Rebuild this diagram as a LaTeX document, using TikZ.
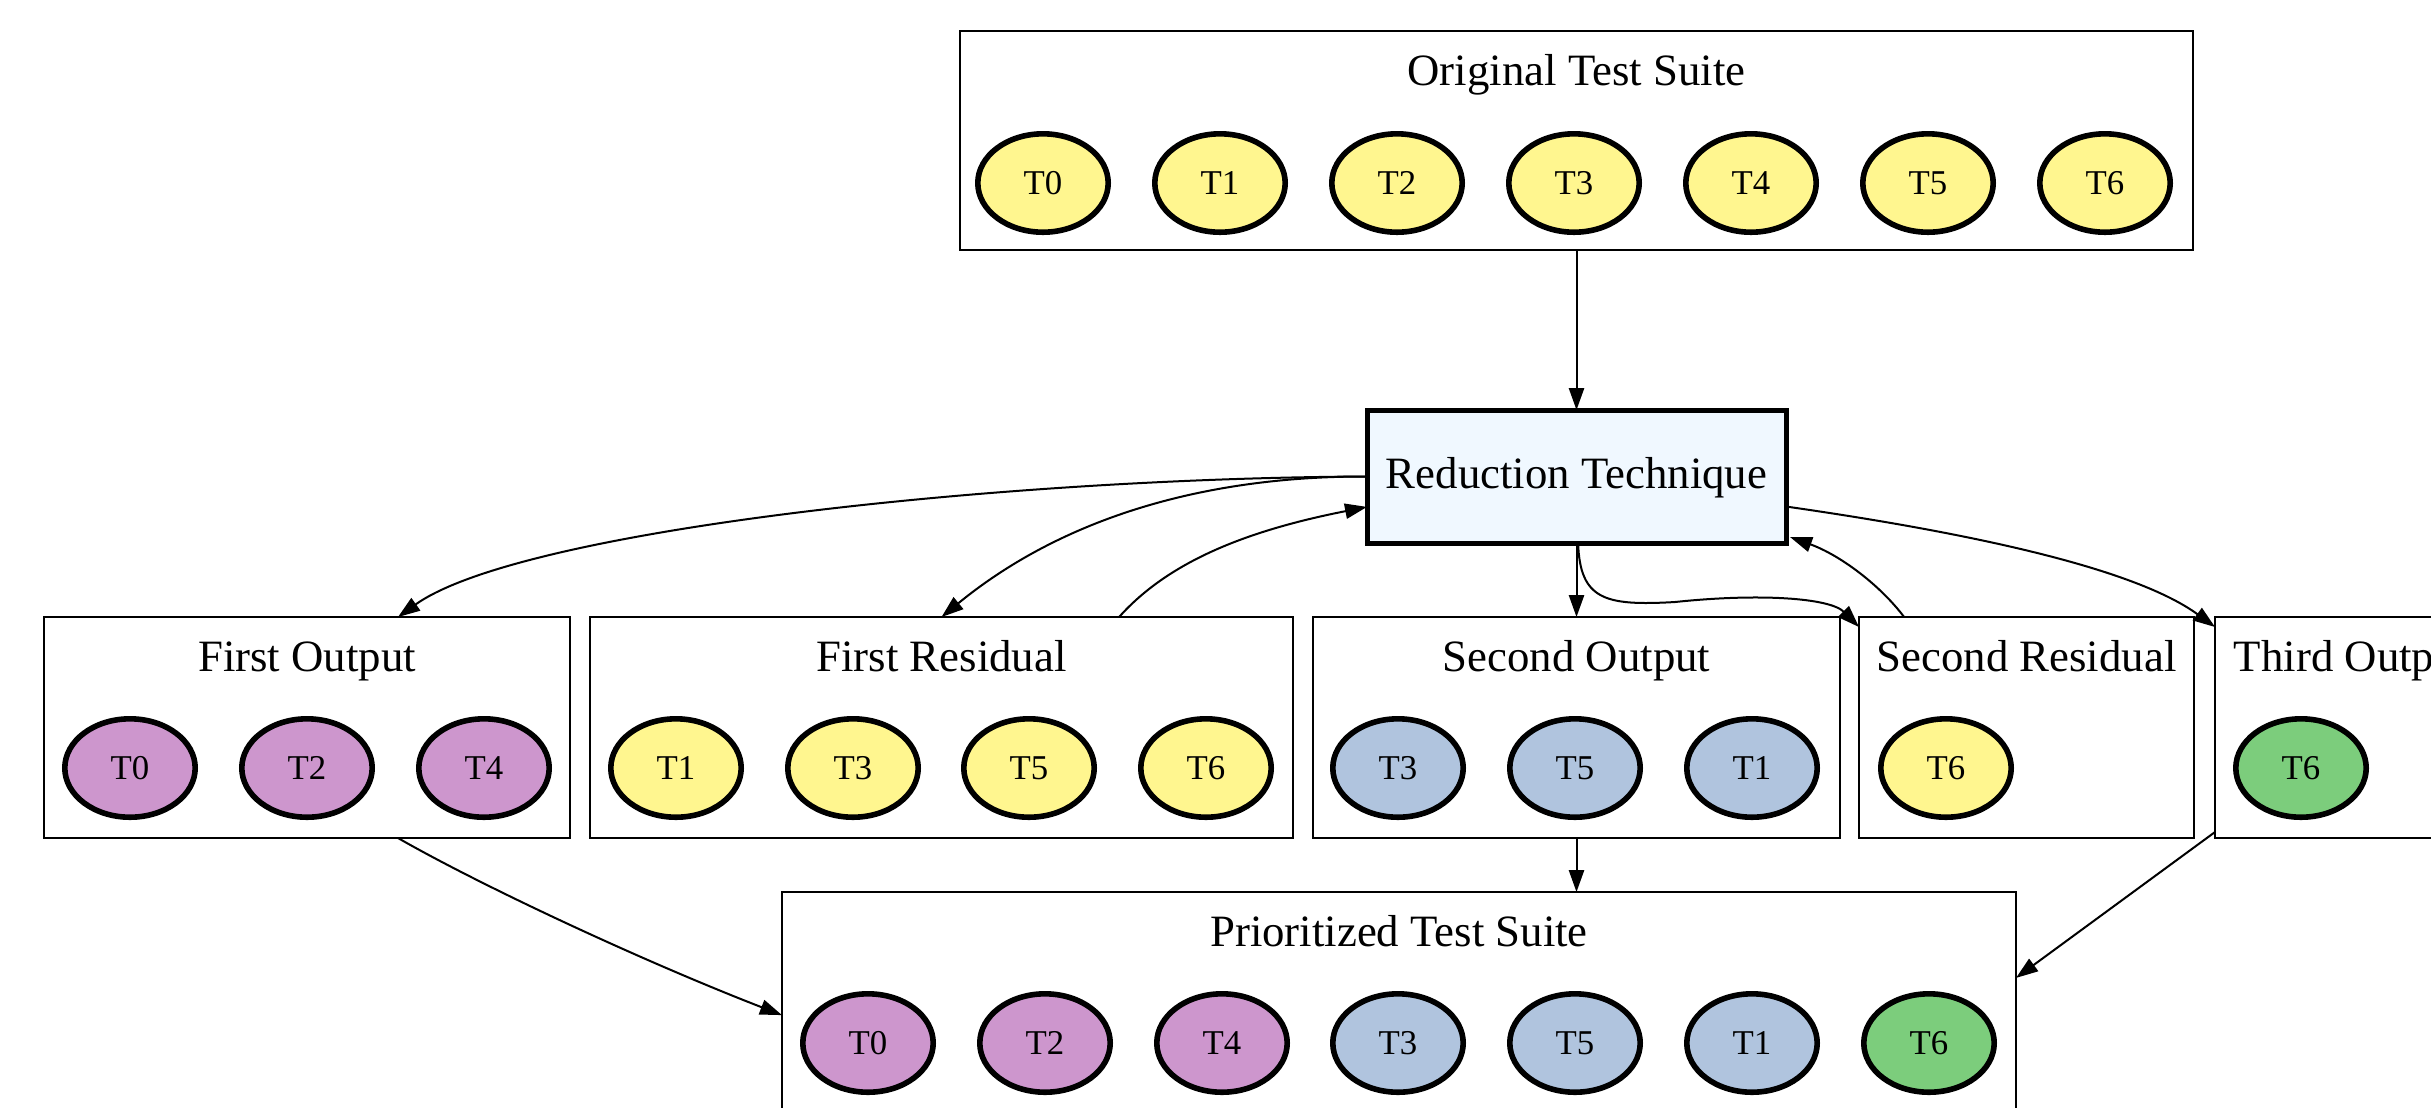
\documentclass[tikz,border=0pt]{standalone}
\usepackage{fontspec}
\setmainfont{Liberation Serif}
\usetikzlibrary{shapes.geometric,arrows.meta,calc}
\definecolor{tyel}{HTML}{FFF68F}
\definecolor{tpur}{HTML}{CD96CD}
\definecolor{tblu}{HTML}{B0C4DE}
\definecolor{tgrn}{HTML}{7CCD7C}
\definecolor{tred}{HTML}{F0F8FF}
\begin{document}
\begin{tikzpicture}[x=0.25pt,y=-0.25pt,
  grp/.style={draw, line width=0.5pt, rectangle, inner sep=0pt, outer sep=0pt, minimum height=55pt},
  ttl/.style={font=\fontsize{11.2}{13}\selectfont, inner sep=0pt, anchor=base},
  tc/.style={ellipse, draw, line width=1.4pt, minimum width=32.6pt, minimum height=24.6pt, inner sep=0pt, font=\fontsize{8.7}{10}\selectfont},
  cy/.style={tc, fill=tyel},
  cp/.style={tc, fill=tpur},
  cb/.style={tc, fill=tblu},
  cg/.style={tc, fill=tgrn},
  arr/.style={draw, line width=0.5pt, -{Triangle[length=5.5pt,width=3.8pt]}},
]
\useasboundingbox (0,0) rectangle (2431,1107);
\clip (0,0) rectangle (2431,1107);
\fill[white] (0,0) rectangle (2431,1107);

% group boxes
\node[grp, minimum width=308.25pt, minimum height=54.75pt] (orig) at (1576.5,140.5) {};
\node[grp, minimum width=131.5pt, minimum height=55.25pt] (fo) at (307,727.5) {};
\node[grp, minimum width=175.75pt, minimum height=55.25pt] (fr) at (941.5,727.5) {};
\node[grp, minimum width=131.75pt, minimum height=55.25pt] (so) at (1576.5,727.5) {};
\node[grp, minimum width=83.75pt, minimum height=55.25pt] (sr) at (2026.5,727.5) {};
\node[grp, minimum width=68.25pt, minimum height=55.25pt] (to) at (2351.5,727.5) {};
\node[grp, minimum width=308.5pt, minimum height=54.75pt] (pts) at (1399,1001.5) {};

% reduction technique
\node[draw, line width=1.25pt, fill=tred, rectangle, inner sep=0pt, outer sep=0pt,
      minimum width=104.75pt, minimum height=33.25pt] (red) at (1576.5,476.5) {};
\node[ttl] (redt) at (1576.5,488) {Reduction Technique};

% titles
\node[ttl] (origt) at (1576.5,85) {Original Test Suite};
\node[ttl] (fot) at (307,671) {First Output};
\node[ttl] (frt) at (941.5,671) {First Residual};
\node[ttl] (sot) at (1576.5,671) {Second Output};
\node[ttl] (srt) at (2026.5,671) {Second Residual};
\node[ttl] (tot) at (2351.5,671) {Third Output};
\node[ttl] (ptst) at (1399,946) {Prioritized Test Suite};

% original suite
\node[cy] (o0) at (1043,183) {T0};
\node[cy] (o1) at (1220,183) {T1};
\node[cy] (o2) at (1397,183) {T2};
\node[cy] (o3) at (1574,183) {T3};
\node[cy] (o4) at (1751,183) {T4};
\node[cy] (o5) at (1928,183) {T5};
\node[cy] (o6) at (2105,183) {T6};

% first output
\node[cp] (f0) at (130,768) {T0};
\node[cp] (f2) at (307,768) {T2};
\node[cp] (f4) at (484,768) {T4};
% first residual
\node[cy] (r1) at (676,768) {T1};
\node[cy] (r3) at (853,768) {T3};
\node[cy] (r5) at (1029,768) {T5};
\node[cy] (r6) at (1206,768) {T6};
% second output
\node[cb] (s3) at (1398,768) {T3};
\node[cb] (s5) at (1575,768) {T5};
\node[cb] (s1) at (1752,768) {T1};
% second residual
\node[cy] (q6) at (1946,768) {T6};
% third output
\node[cg] (t6) at (2301,768) {T6};

% prioritized
\node[cp] (p0) at (868,1043) {T0};
\node[cp] (p2) at (1045,1043) {T2};
\node[cp] (p4) at (1222,1043) {T4};
\node[cb] (p3) at (1398,1043) {T3};
\node[cb] (p5) at (1575,1043) {T5};
\node[cb] (p1) at (1752,1043) {T1};
\node[cg] (p6) at (1929,1043) {T6};

% edges
\draw[arr] (orig.south) -- (red.north);
\draw[arr] (red.west) .. controls (1000,478) and (520,530) .. ([xshift=22.75pt]fo.north);
\draw[arr] (red.west) .. controls (1200,476) and (1060,520) .. (fr.north);
\draw[arr] ([xshift=44.4pt]fr.north) .. controls (1170,560) and (1250,530) .. ([yshift=-7.6pt]red.west);
\draw[arr] (red.south) -- (so.north);
\draw[arr] ([xshift=0.4pt]red.south) .. controls (1580,600) and (1605,606) .. (1675,602)
  .. controls (1760,593) and (1830,598) .. ([yshift=-2.5pt]sr.north west);
\draw[arr] ([xshift=-30.6pt]sr.north) .. controls (1880,585) and (1840,555) .. ([xshift=1pt,yshift=1.5pt]red.south east);
\draw[arr] ([yshift=-7.5pt]red.east) .. controls (1950,530) and (2130,565) .. ([yshift=-2.5pt]to.north west);
\draw[arr] ([xshift=22.75pt]fo.south) .. controls (480,885) and (640,960) .. ([yshift=-3.4pt]pts.west);
\draw[arr] (so.south) -- (so.south |- pts.north);
\draw[arr] ([yshift=1.5pt]to.south west) -- ([yshift=5.9pt]pts.east);
\end{tikzpicture}
\end{document}
